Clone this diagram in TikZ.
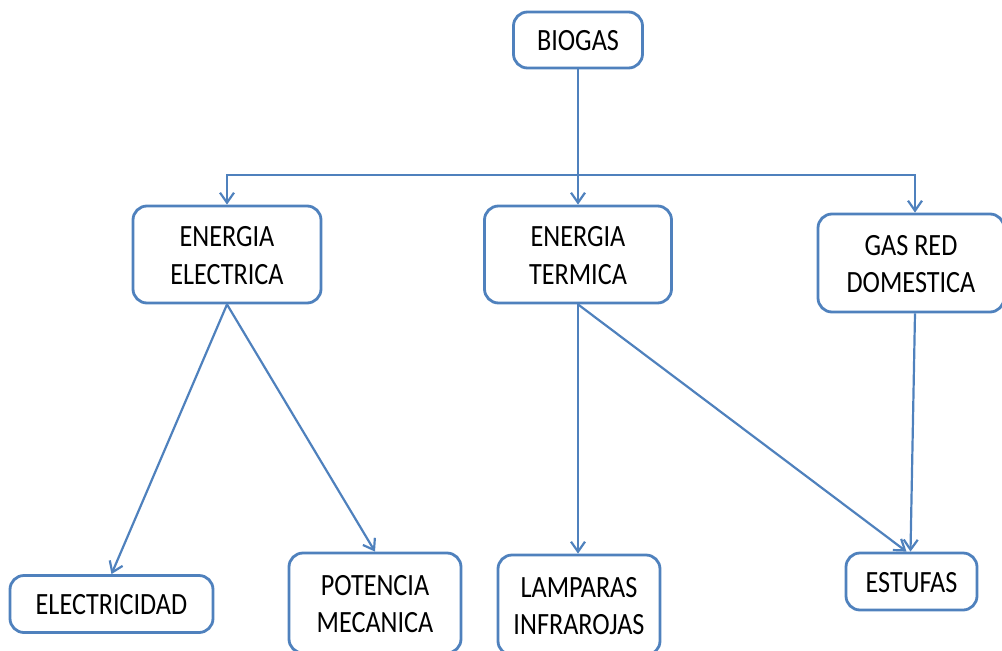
\documentclass[tikz,border=0pt]{standalone}
\usepackage{fontspec}
\usepackage{graphicx}
\setmainfont{Carlito}
\usetikzlibrary{arrows.meta,calc}
\definecolor{boxblue}{HTML}{4F81BD}
% box label: slightly tall lettering, centred lines, set a little low in the box
\newcommand{\boxtext}[1]{\raisebox{-3.5pt}[\height][\depth]{\scalebox{1}[1.18]{\begin{tabular}{@{}c@{}}#1\end{tabular}}}}
\tikzset{
  box/.style={draw=boxblue, line width=2.8pt, rounded corners=14pt, fill=white,
    align=center, inner sep=0pt, text=black,
    font=\fontsize{26.2}{31.5}\selectfont},
  link/.style={draw=boxblue, line width=2.2pt,
    -{Straight Barb[length=10pt,width=14pt,line width=2.2pt]}},
  plain/.style={draw=boxblue, line width=2.2pt}
}
\begin{document}
\begin{tikzpicture}[x=1pt,y=-1pt]
\useasboundingbox (0,0) rectangle (1002,651);
% top level
\node[box, minimum width=129pt, minimum height=56pt] (biogas) at (578,40) {\boxtext{BIOGAS}};
% second level
\node[box, minimum width=188pt, minimum height=97pt] (elec) at (227,254.5) {\boxtext{ENERGIA\\ELECTRICA}};
\node[box, minimum width=187pt, minimum height=97pt] (term) at (578,254.5) {\boxtext{ENERGIA\\TERMICA}};
\node[box, minimum width=186pt, minimum height=98pt] (gas) at (911,263) {\boxtext{GAS RED\\DOMESTICA}};
% bottom level
\node[box, minimum width=203pt, minimum height=57pt] (electricidad) at (111.5,604) {\boxtext{ELECTRICIDAD}};
\node[box, minimum width=172pt, minimum height=100pt] (potencia) at (375,603) {\boxtext{POTENCIA\\MECANICA}};
\node[box, minimum width=162pt, minimum height=100pt] (lamparas) at (579,605) {\boxtext{LAMPARAS\\INFRAROJAS}};
\node[box, minimum width=131pt, minimum height=57pt] (estufas) at (911.5,581.5) {\boxtext{ESTUFAS}};
% distribution bar under BIOGAS
\coordinate (j) at (578,175);
\draw[plain] (biogas.south) -- (j);
\draw[link] (j) -| (elec.north);
\draw[link] (j) -- (term.north);
\draw[link] (j) -| ($(gas.north)+(4,0)$);
% branches
\draw[link] (elec.south) -- (electricidad.north);
\draw[link] (elec.south) -- (potencia.north);
\draw[link] (term.south) -- (term.south |- lamparas.north);
\draw[link] (term.south) -- ($(estufas.north)+(-5,0)$);
\draw[link] ($(gas.south)+(4,0)$) -- ($(estufas.north)+(-1,0)$);
\end{tikzpicture}
\end{document}
